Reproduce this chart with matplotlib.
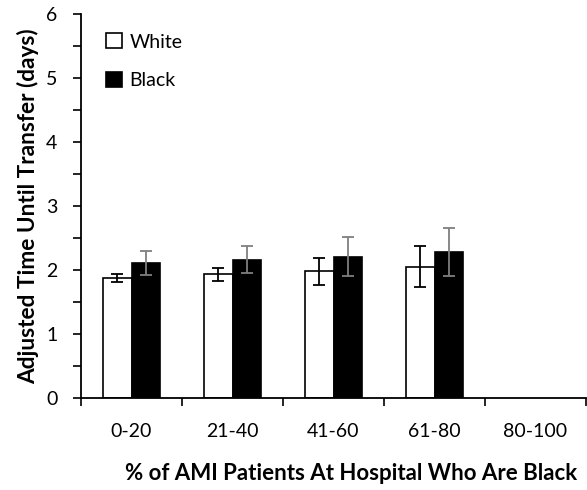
import matplotlib
matplotlib.use("Agg")
import matplotlib.pyplot as plt
import numpy as np

categories = ["0-20", "21-40", "41-60", "61-80", "80-100"]
white_vals = [1.88, 1.93, 1.98, 2.05]
white_err = [0.06, 0.10, 0.21, 0.32]
black_vals = [2.11, 2.16, 2.21, 2.28]
black_err = [0.19, 0.21, 0.30, 0.37]

plt.rcParams['font.family'] = ['Lato', 'DejaVu Sans']

fig = plt.figure(figsize=(5.87, 4.90), dpi=100)
ax = fig.add_axes([81/587, 1-398/490, 505/587, (398-14)/490])

x = np.arange(len(white_vals))
w = 0.28
ax.bar(x - w/2, white_vals, w, color='white', edgecolor='black', linewidth=1.2, label='White', zorder=2)
ax.bar(x + w/2, black_vals, w, color='black', edgecolor='black', linewidth=1.2, label='Black', zorder=2)
ax.errorbar(x - w/2, white_vals, yerr=white_err, fmt='none', ecolor='black', elinewidth=1.3, capsize=4, capthick=1.3, zorder=3)
ax.errorbar(x + w/2, black_vals, yerr=black_err, fmt='none', ecolor='#7f7f7f', elinewidth=1.3, capsize=4, capthick=1.3, zorder=3)

ax.set_xlim(-0.5, len(categories) - 0.5)
ax.set_ylim(0, 6)
ax.set_yticks(range(0, 7))
ax.set_yticks(np.arange(0.5, 6, 1.0), minor=True)
ax.tick_params(axis='y', which='major', labelsize=14, length=6, width=1.2, direction='out', pad=11)
ax.tick_params(axis='y', which='minor', length=6, width=1.2, direction='out')
ax.set_xticks(range(len(categories)))
ax.set_xticklabels(categories)
ax.tick_params(axis='x', which='major', length=0, labelsize=14, pad=18)
ax.set_xticks(np.arange(-0.5, len(categories), 1.0), minor=True)
ax.tick_params(axis='x', which='minor', length=6, width=1.2, direction='out')

for s in ['top', 'right']:
    ax.spines[s].set_visible(False)
for s in ['left', 'bottom']:
    ax.spines[s].set_linewidth(1.3)

ax.set_ylabel('Adjusted Time Until Transfer (days)', fontsize=16.3, fontweight='bold', labelpad=5)
ax.set_xlabel('% of AMI Patients At Hospital Who Are Black', fontsize=16, fontweight='bold')
ax.xaxis.set_label_coords(0.535, -0.17)

leg = ax.legend(loc='upper left', bbox_to_anchor=(0.015, 0.995), frameon=False, fontsize=14,
                handlelength=0.8, handleheight=0.8, handletextpad=0.4, labelspacing=1.1)

fig.savefig('out.png', dpi=100)
